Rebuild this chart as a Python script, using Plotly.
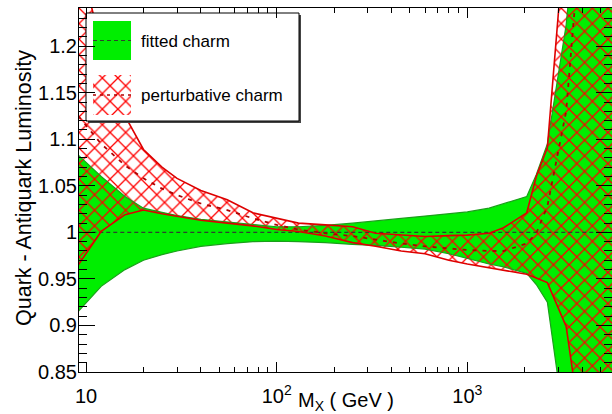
import plotly.graph_objects as go

# ---------------- data ----------------
mass_gev = [9.1, 12, 16, 20, 25, 30, 40, 55, 75, 100, 130, 180, 250, 330, 450,
            600, 800, 1000, 1300, 1550, 2050, 2300, 2630, 3300, 4200, 6500]

fitted_upper = [1.083, 1.060, 1.0385, 1.026, 1.0215, 1.018, 1.014, 1.011, 1.0085, 1.006,
                1.006, 1.0075, 1.0099, 1.012, 1.015, 1.0175, 1.020, 1.022, 1.026, 1.031,
                1.0385, 1.062, 1.095, 1.223, 1.45, 1.6]
fitted_lower = [0.915, 0.942, 0.960, 0.970, 0.976, 0.980, 0.985, 0.988, 0.990, 0.9905,
                0.990, 0.989, 0.987, 0.986, 0.984, 0.982, 0.977, 0.972, 0.966, 0.963,
                0.956, 0.944, 0.925, 0.78, 0.6, 0.5]
fitted_central = [1.0] * len(mass_gev)

pert_upper = [1.30, 1.20, 1.125, 1.089, 1.070, 1.058, 1.045, 1.035, 1.021, 1.015,
              1.0099, 1.008, 1.006, 0.999, 0.997, 0.9955, 0.9965, 0.997, 0.999, 1.005,
              1.021, 1.060, 1.091, 1.35, 1.6, 1.8]
pert_lower = [0.965, 1.001, 1.019, 1.024, 1.020, 1.017, 1.013, 1.0099, 1.007, 1.003,
              1.001, 0.996, 0.989, 0.985, 0.980, 0.977, 0.970, 0.966, 0.962, 0.960,
              0.955, 0.951, 0.946, 0.899, 0.75, 0.6]
pert_central = [1.125, 1.095, 1.072, 1.058, 1.047, 1.040, 1.031, 1.024, 1.015, 1.008,
                1.003, 0.999, 0.996, 0.992, 0.988, 0.985, 0.983, 0.981, 0.980, 0.980,
                0.988, 0.999, 1.028, 1.130, 1.39, 1.6]

x_tickvals = [10, 100, 1000]
x_ticktext = ["10", "10<sup>2</sup>", "10<sup>3</sup>"]
x_minor = [20, 30, 40, 50, 60, 70, 80, 90, 200, 300, 400, 500, 600, 700, 800, 900,
           2000, 3000, 4000, 5000]
y_tickvals = [0.85, 0.9, 0.95, 1.0, 1.05, 1.1, 1.15, 1.2]
y_ticktext = ["0.85", "0.9", "0.95", "1", "1.05", "1.1", "1.15", "1.2"]
y_minor = [round(0.85 + 0.01 * i, 2) for i in range(1, 40)]

legend_labels = ["fitted charm", "perturbative charm"]

# ---------------- style ----------------
FONT = "Liberation Sans, Arial, Helvetica, sans-serif"
GREEN = "#00ee00"
GREEN_LINE = "#1aa01a"
RED = "#ff0000"
RED_LINE = "#dd0000"
RED_DARK = "#b00000"
HATCH = dict(shape="x", size=11, solidity=0.22, fgcolor=RED, fgopacity=1,
             bgcolor="rgba(0,0,0,0)", fillmode="overlay")

W, H = 612, 414
L, R, T, B = 79, 0, 8, 42
PW, PH = W - L - R, H - T - B

def px2paper(px, py):
    return (px - L) / PW, (H - B - py) / PH

fig = go.Figure()

# fitted charm band (solid green)
fig.add_trace(go.Scatter(
    x=mass_gev + mass_gev[::-1], y=fitted_upper + fitted_lower[::-1],
    fill="toself", fillcolor=GREEN, line=dict(width=0), mode="lines",
    hoverinfo="skip", showlegend=False))

# perturbative charm band (red cross hatch)
fig.add_trace(go.Scatter(
    x=mass_gev + mass_gev[::-1], y=pert_upper + pert_lower[::-1],
    fill="toself", fillcolor="rgba(0,0,0,0)", fillpattern=HATCH,
    line=dict(width=0), mode="lines", hoverinfo="skip", showlegend=False))

# boundaries
for ys in (fitted_upper, fitted_lower):
    fig.add_trace(go.Scatter(x=mass_gev, y=ys, mode="lines",
                             line=dict(color=GREEN_LINE, width=1.2),
                             hoverinfo="skip", showlegend=False))
fig.add_trace(go.Scatter(x=mass_gev, y=fitted_central, mode="lines",
                         line=dict(color="#2f3f2f", width=1.1, dash="4px,3px"),
                         hoverinfo="skip", showlegend=False))
for ys in (pert_upper, pert_lower):
    fig.add_trace(go.Scatter(x=mass_gev, y=ys, mode="lines",
                             line=dict(color=RED_LINE, width=1.6),
                             hoverinfo="skip", showlegend=False))
fig.add_trace(go.Scatter(x=mass_gev, y=pert_central, mode="lines",
                         line=dict(color=RED_DARK, width=1.8, dash="4px,6px"),
                         hoverinfo="skip", showlegend=False))

# ---------------- hand-drawn legend on a pixel overlay axis ----------------
def rect(x0, y0, x1, y1):
    return [x0, x1, x1, x0, x0], [y0, y0, y1, y1, y0]

lx0, ly0, lx1, ly1 = 86, 13, 299, 121
sx, sy = rect(lx0 + 2, ly0 + 2, lx1 + 2, ly1 + 2)
fig.add_trace(go.Scatter(x=sx, y=sy, xaxis="x2", yaxis="y2", fill="toself",
                         fillcolor="#444444", line=dict(width=0), mode="lines",
                         hoverinfo="skip", showlegend=False))
bx, by = rect(lx0, ly0, lx1, ly1)
fig.add_trace(go.Scatter(x=bx, y=by, xaxis="x2", yaxis="y2", fill="toself",
                         fillcolor="white", line=dict(color="black", width=1),
                         mode="lines", hoverinfo="skip", showlegend=False))
gx, gy = rect(93, 21, 131, 60)
fig.add_trace(go.Scatter(x=gx, y=gy, xaxis="x2", yaxis="y2", fill="toself",
                         fillcolor=GREEN, line=dict(width=0), mode="lines",
                         hoverinfo="skip", showlegend=False))
fig.add_trace(go.Scatter(x=[93, 131], y=[40.5, 40.5], xaxis="x2", yaxis="y2",
                         mode="lines", line=dict(color="#2f3f2f", width=1.1, dash="4px,3px"),
                         hoverinfo="skip", showlegend=False))
hx, hy = rect(93, 75, 131, 115)
fig.add_trace(go.Scatter(x=hx, y=hy, xaxis="x2", yaxis="y2", fill="toself",
                         fillcolor="rgba(0,0,0,0)", fillpattern=HATCH,
                         line=dict(width=0), mode="lines",
                         hoverinfo="skip", showlegend=False))
fig.add_trace(go.Scatter(x=[93, 131], y=[95, 95], xaxis="x2", yaxis="y2",
                         mode="lines", line=dict(color=RED_DARK, width=1.3, dash="3px,4px"),
                         hoverinfo="skip", showlegend=False))

annotations = [
    dict(x=139, y=41, xref="x2", yref="y2", text=legend_labels[0], showarrow=False,
         xanchor="left", yanchor="middle", font=dict(family=FONT, size=17, color="black")),
    dict(x=139, y=95, xref="x2", yref="y2", text=legend_labels[1], showarrow=False,
         xanchor="left", yanchor="middle", font=dict(family=FONT, size=17, color="black")),
]
ax, ay = px2paper(24, 188)
annotations.append(dict(x=ax, y=ay, xref="paper", yref="paper",
                        text="Quark - Antiquark Luminosity", textangle=-90,
                        showarrow=False, xanchor="center", yanchor="middle",
                        font=dict(family=FONT, size=21.5, color="black")))
tx, ty = px2paper(346, 401)
annotations.append(dict(x=tx, y=ty, xref="paper", yref="paper",
                        text="M<sub>X</sub> ( GeV )", showarrow=False,
                        xanchor="center", yanchor="middle",
                        font=dict(family=FONT, size=20, color="black")))

fig.update_layout(
    width=W, height=H, margin=dict(l=L, r=R, t=T, b=B, pad=0),
    paper_bgcolor="white", plot_bgcolor="white", showlegend=False,
    font=dict(family=FONT, color="black"),
    annotations=annotations,
    xaxis=dict(type="log", range=[0.9628, 3.759], tickvals=x_tickvals, ticktext=x_ticktext,
               ticks="inside", ticklen=10, tickcolor="black", tickwidth=1,
               showline=True, linecolor="black", linewidth=1, mirror="allticks",
               showgrid=False, zeroline=False, ticklabelstandoff=6,
               tickfont=dict(family=FONT, size=20, color="black"),
               minor=dict(tickvals=x_minor, ticks="inside", ticklen=5,
                          tickcolor="black", showgrid=False)),
    yaxis=dict(range=[0.85, 1.241], tickvals=y_tickvals, ticktext=y_ticktext,
               ticks="inside", ticklen=16, tickcolor="black", tickwidth=1,
               showline=True, linecolor="black", linewidth=1, mirror="allticks",
               showgrid=False, zeroline=False, ticklabelstandoff=-3,
               tickfont=dict(family=FONT, size=20, color="black"),
               minor=dict(tickvals=y_minor, ticks="inside", ticklen=8,
                          tickcolor="black", showgrid=False)),
    xaxis2=dict(overlaying="x", anchor="y2", range=[L, W - R], visible=False,
                fixedrange=True),
    yaxis2=dict(overlaying="y", anchor="x2", range=[H - B, T], visible=False,
                fixedrange=True),
)

fig.write_html("out.html")
